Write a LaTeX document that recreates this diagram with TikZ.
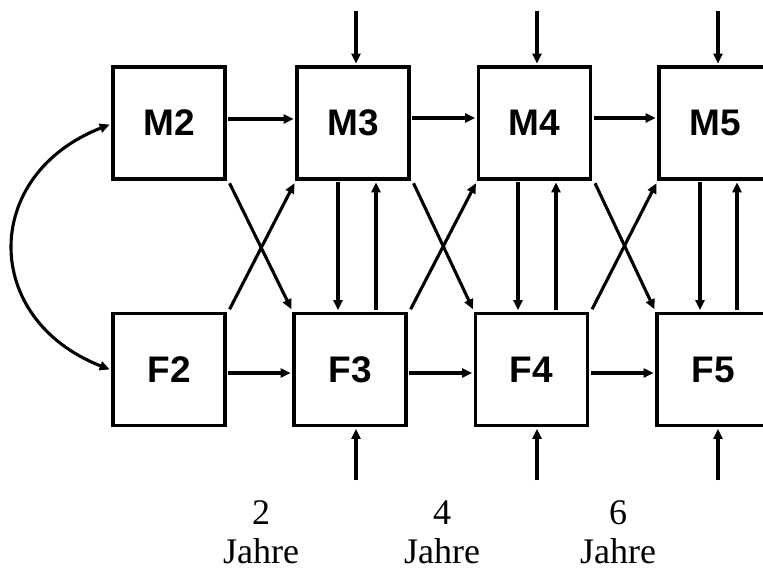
\documentclass[tikz,border=0pt]{standalone}
\usepackage{fontspec}
\setmainfont{Liberation Serif}
\newfontfamily\boxfont{Liberation Sans}
\usetikzlibrary{arrows.meta,calc}
\tikzset{
  var/.style={draw, line width=3.8pt, minimum width=112pt, minimum height=112pt, inner sep=0pt,
    font=\boxfont\bfseries\fontsize{37}{40}\selectfont},
  arr/.style={line width=3.1pt, -{Triangle[length=10pt,width=9pt]}, shorten >=1.5pt, shorten <=1.5pt},
  darr/.style={line width=3.1pt, {Triangle[length=10pt,width=9pt]}-{Triangle[length=10pt,width=9pt]}, shorten >=1.5pt, shorten <=1.5pt},
  lab/.style={inner sep=0pt, font=\fontsize{36}{40}\selectfont}
}
\begin{document}
\begin{tikzpicture}[x=1pt,y=-1pt]
\useasboundingbox (0,0) rectangle (763,571);
\clip (0,0) rectangle (763,571);
% boxes
\node[var] (M2) at (169,123) {M2};
\node[var] (M3) at (353,123) {M3};
\node[var] (M4) at (534.5,123) {M4};
\node[var] (M5) at (715,123) {M5};
\node[var] (F2) at (169,369.5) {F2};
\node[var] (F3) at (350,369.5) {F3};
\node[var] (F4) at (531.5,369.5) {F4};
\node[var] (F5) at (713,369.5) {F5};
% horizontal arrows
\draw[arr] (M2.east |- 0,119) -- (M3.west |- 0,119);
\draw[arr] (M3.east |- 0,118) -- (M4.west |- 0,118);
\draw[arr] (M4.east |- 0,118) -- (M5.west |- 0,118);
\draw[arr] (F2.east |- 0,373) -- (F3.west |- 0,373);
\draw[arr] (F3.east |- 0,373) -- (F4.west |- 0,373);
\draw[arr] (F4.east |- 0,373) -- (F5.west |- 0,373);
% cross arrows
\draw[arr] ([shift={(2,1)}]M2.south east) -- ([shift={(0,-1)}]F3.north west);
\draw[arr] ([shift={(2,-1)}]F2.north east) -- ([shift={(0,1)}]M3.south west);
\draw[arr] ([shift={(2,1)}]M3.south east) -- ([shift={(0,-1)}]F4.north west);
\draw[arr] ([shift={(2,-1)}]F3.north east) -- ([shift={(0,1)}]M4.south west);
\draw[arr] ([shift={(2,1)}]M4.south east) -- ([shift={(0,-1)}]F5.north west);
\draw[arr] ([shift={(2,-1)}]F4.north east) -- ([shift={(0,1)}]M5.south west);
% vertical arrows between rows
\draw[arr] (M3.south -| 338,0) -- (F3.north -| 338,0);
\draw[arr] (F3.north -| 376,0) -- (M3.south -| 376,0);
\draw[arr] (M4.south -| 518,0) -- (F4.north -| 518,0);
\draw[arr] (F4.north -| 556,0) -- (M4.south -| 556,0);
\draw[arr] (M5.south -| 700,0) -- (F5.north -| 700,0);
\draw[arr] (F5.north -| 737,0) -- (M5.south -| 737,0);
% external inputs
\coordinate (iM3) at (356,11);
\coordinate (iM4) at (537,11);
\coordinate (iM5) at (718,11);
\coordinate (iF3) at (356,480);
\coordinate (iF4) at (537,480);
\coordinate (iF5) at (718,480);
\draw[arr,shorten <=0pt] (iM3) -- (iM3 |- M3.north);
\draw[arr,shorten <=0pt] (iM4) -- (iM4 |- M4.north);
\draw[arr,shorten <=0pt] (iM5) -- (iM5 |- M5.north);
\draw[arr,shorten <=0pt] (iF3) -- (iF3 |- F3.south);
\draw[arr,shorten <=0pt] (iF4) -- (iF4 |- F4.south);
\draw[arr,shorten <=0pt] (iF5) -- (iF5 |- F5.south);
% correlation
\draw[darr] (F2.west |- 0,370) .. controls (-19,319) and (-19,175) .. (M2.west |- 0,124);
% time labels
\node[lab] (n2) at (261,513) {2};
\node[lab] (j2) at (261,551) {Jahre};
\node[lab] (n4) at (442,513) {4};
\node[lab] (j4) at (442,551) {Jahre};
\node[lab] (n6) at (618,513) {6};
\node[lab] (j6) at (618,551) {Jahre};
\end{tikzpicture}
\end{document}
